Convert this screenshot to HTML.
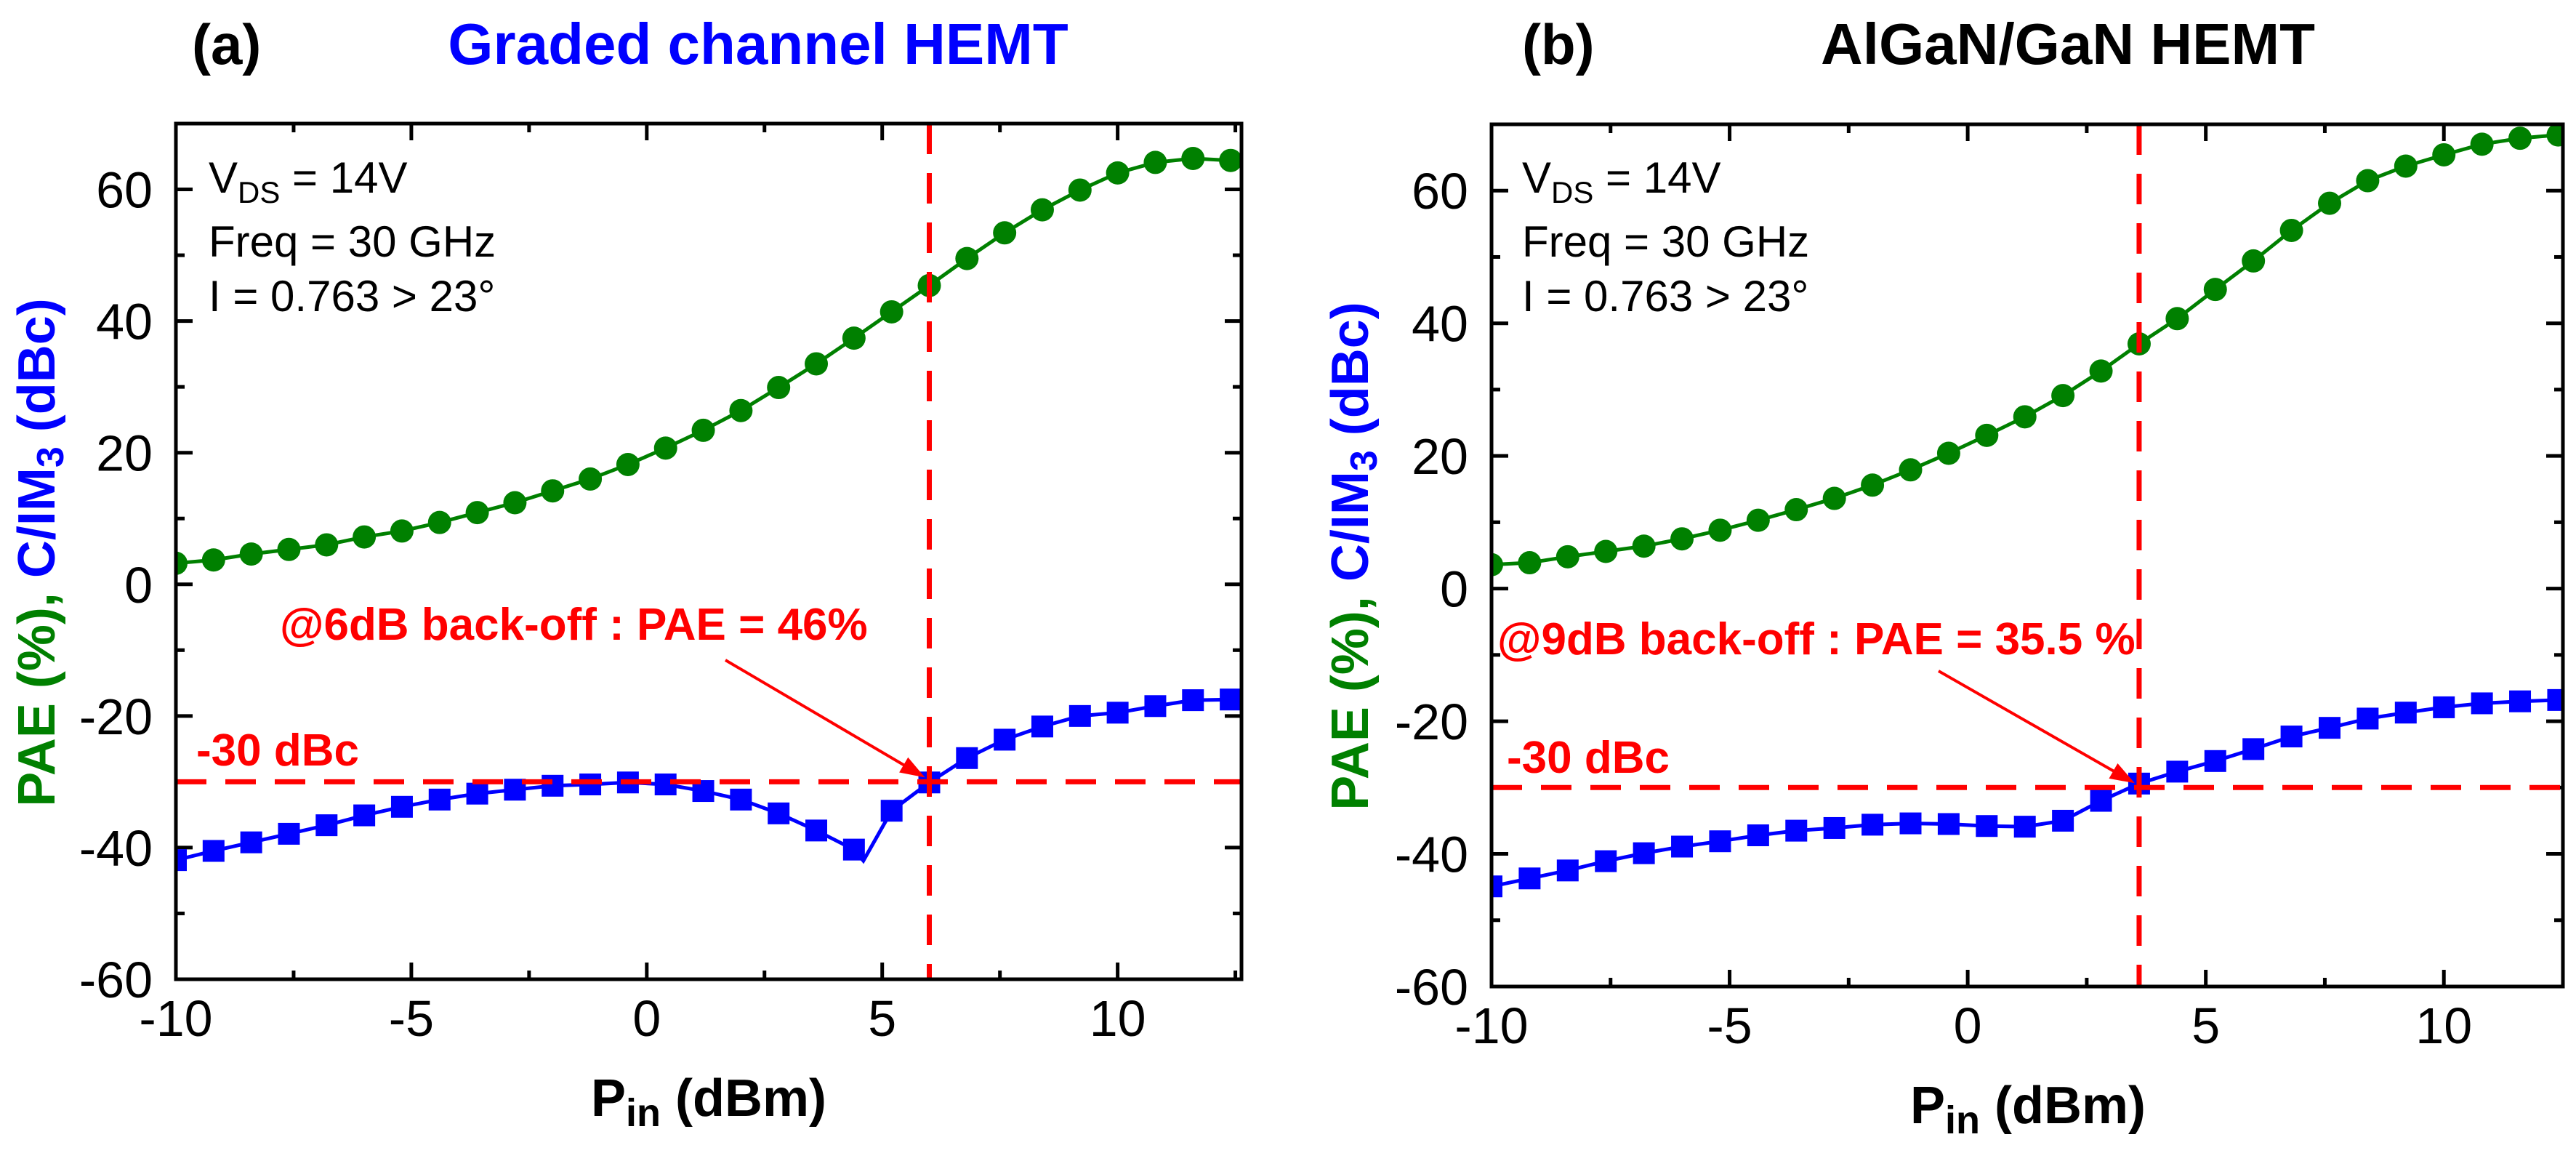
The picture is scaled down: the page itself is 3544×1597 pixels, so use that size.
<!DOCTYPE html>
<html><head><meta charset="utf-8"><style>
html,body{margin:0;padding:0;background:#fff;}
svg{display:block;font-family:"Liberation Sans",Arial,sans-serif;}
</style></head><body>
<svg id="fig" width="3544" height="1597" viewBox="0 0 3544 1597" xmlns="http://www.w3.org/2000/svg"></svg>
<script>
// ---- data ----
const pinA = [-10,-9.2,-8.4,-7.6,-6.8,-6,-5.2,-4.4,-3.6,-2.8,-2,-1.2,-0.4,0.4,1.2,2,2.8,3.6,4.4,5.2,6,6.8,7.6,8.4,9.2,10,10.8,11.6,12.4];
const paeA = [3.2,3.7,4.6,5.3,6.0,7.2,8.1,9.4,10.9,12.4,14.2,16.0,18.2,20.7,23.4,26.4,29.9,33.5,37.4,41.4,45.4,49.5,53.4,56.9,59.9,62.5,64.1,64.7,64.4];
const cimA = [-41.9,-40.5,-39.2,-37.9,-36.6,-35.1,-33.8,-32.7,-31.8,-31.2,-30.6,-30.4,-30.1,-30.4,-31.4,-32.7,-34.8,-37.4,-40.3,-34.4,-30.1,-26.4,-23.6,-21.6,-20.0,-19.5,-18.5,-17.6,-17.5];
const dipA = [4.6,-42.0];
const pinB = [-10,-9.2,-8.4,-7.6,-6.8,-6,-5.2,-4.4,-3.6,-2.8,-2,-1.2,-0.4,0.4,1.2,2,2.8,3.6,4.4,5.2,6,6.8,7.6,8.4,9.2,10,10.8,11.6,12.4];
const paeB = [3.6,3.9,4.8,5.6,6.4,7.5,8.8,10.3,11.9,13.6,15.6,17.9,20.4,23.1,25.9,29.1,32.8,36.9,40.7,45.1,49.4,54.0,58.1,61.5,63.7,65.4,67.0,67.9,68.4];
const cimB = [-44.9,-43.7,-42.5,-41.1,-39.9,-38.9,-38.1,-37.2,-36.5,-36.1,-35.6,-35.4,-35.5,-35.8,-35.9,-35.0,-32.0,-29.4,-27.6,-26.0,-24.2,-22.3,-21.0,-19.6,-18.7,-17.9,-17.3,-17.0,-16.8];
const xTicks = [-10,-5,0,5,10];
const yTicks = [-60,-40,-20,0,20,40,60];
const backoffA = 6, backoffB = 3.6, limitDbc = -30;

const NS="http://www.w3.org/2000/svg";
const svg=document.getElementById('fig');
function mk(tag,attrs,parent,text){const e=document.createElementNS(NS,tag);for(const k in attrs)e.setAttribute(k,attrs[k]);if(text!==undefined)e.textContent=text;(parent||svg).appendChild(e);return e;}

function panel(o){
  const g=mk('g',{});
  
  
  const X=v=>o.L+(v-o.x0)/(o.x1-o.x0)*(o.R-o.L);
  const Y=v=>o.B-(v-o.y0)/(o.y1-o.y0)*(o.B-o.T);
  const tk=mk('g',{stroke:'#000','stroke-width':5},g);
  
  
  for(let v=o.x0;v<=o.x1+1e-6;v+=2.5){const maj=Math.abs(v%5)<1e-6;const l=maj?23:12;const x=X(v);
    mk('line',{x1:x,x2:x,y1:o.B,y2:o.B-l},tk);mk('line',{x1:x,x2:x,y1:o.T,y2:o.T+l},tk);}
  for(let v=o.y0;v<=o.y1+1e-6;v+=10){const maj=Math.abs(v%20)<1e-6;const l=maj?23:12;const y=Y(v);
    mk('line',{x1:o.L,x2:o.L+l,y1:y,y2:y},tk);mk('line',{x1:o.R,x2:o.R-l,y1:y,y2:y},tk);}
  xTicks.forEach(v=>{const t=mk('text',{x:X(v),y:o.B+78,'font-size':70,'text-anchor':'middle'},g,String(v));
    
    });
  yTicks.forEach(v=>{const t=mk('text',{x:o.L-32,y:Y(v)+25,'font-size':70,'text-anchor':'end'},g,String(v));
    
    });
  const cp=mk('clipPath',{id:'clip'+o.id},g);mk('rect',{x:o.L,y:o.T,width:o.R-o.L,height:o.B-o.T},cp);
  const sg=mk('g',{'clip-path':'url(#clip'+o.id+')'},g);
  const gpts=o.px.map((x,i)=>X(x)+','+Y(o.pae[i])).join(' ');
  const gl=mk('polyline',{points:gpts,fill:'none',stroke:'#008000','stroke-width':5},sg);
  
  
  const bp=[];o.px.forEach((x,i)=>{if(o.dip&&x>o.dip[0]&&bp.length&&o.px[i-1]<o.dip[0])bp.push([o.dip[0],o.dip[1]]);bp.push([x,o.cim[i]]);});
  const bl=mk('polyline',{points:bp.map(p=>X(p[0])+','+Y(p[1])).join(' '),fill:'none',stroke:'#0000ff','stroke-width':5},sg);
  
  
  o.px.forEach((x,i)=>{const c=mk('circle',{cx:X(x),cy:Y(o.pae[i]),r:16,fill:'#008000'},sg);
    
    
    const s=mk('rect',{x:X(x)-15,y:Y(o.cim[i])-15,width:30,height:30,fill:'#0000ff'},sg);
    
    });
  const h=mk('line',{x1:o.L,x2:o.R,y1:Y(limitDbc),y2:Y(limitDbc),stroke:'#ff0000','stroke-width':7,'stroke-dasharray':'42 26'},g);
  
  
  const vv=mk('line',{x1:X(o.bo),x2:X(o.bo),y1:o.T,y2:o.B,stroke:'#ff0000','stroke-width':7,'stroke-dasharray':'42 26'},g);
  
  
  const fr=mk('rect',{x:o.L,y:o.T,width:o.R-o.L,height:o.B-o.T,fill:'none',stroke:'#000','stroke-width':5},g);
  
  
  const ax=X(o.bo)-6, ay=Y(limitDbc)-6;
  const ang=Math.atan2(ay-o.ay0,ax-o.ax0);
  const ar=mk('g',{},g);
  
  
  mk('line',{x1:o.ax0,y1:o.ay0,x2:ax-20*Math.cos(ang),y2:ay-20*Math.sin(ang),stroke:'#ff0000','stroke-width':4},ar);
  const hl=34,hw=12;
  const bx=ax-hl*Math.cos(ang),by=ay-hl*Math.sin(ang);
  mk('polygon',{points:`${ax},${ay} ${bx+hw*Math.sin(ang)},${by-hw*Math.cos(ang)} ${bx-hw*Math.sin(ang)},${by+hw*Math.cos(ang)}`,fill:'#ff0000'},ar);
  return g;
}
panel({id:'a',L:242,R:1708,T:170,B:1347,x0:-10,x1:12.63,y0:-60,y1:70,px:pinA,pae:paeA,cim:cimA,dip:dipA,bo:backoffA,ax0:998,ay0:908});
panel({id:'b',L:2052,R:3526,T:171,B:1357,x0:-10,x1:12.5,y0:-60,y1:70,px:pinB,pae:paeB,cim:cimB,dip:null,bo:backoffB,ax0:2667,ay0:923});
</script>
<svg style="position:absolute;left:0;top:0" width="3544" height="1597" xmlns="http://www.w3.org/2000/svg" font-family="Liberation Sans, Arial, sans-serif">
  <text x="264" y="88" font-size="78" font-weight="bold">(a)</text>
  <text x="1043" y="88" font-size="80" font-weight="bold" fill="#0000ff" text-anchor="middle">Graded channel HEMT</text>
  <text x="2094" y="88" font-size="78" font-weight="bold">(b)</text>
  <text x="2845" y="88" font-size="80" font-weight="bold" text-anchor="middle">AlGaN/GaN HEMT</text>

  <g font-size="60">
    <text x="287" y="265">V<tspan font-size="42" dy="14">DS</tspan><tspan dy="-14"> = 14V</tspan></text>
    <text x="287" y="353">Freq = 30 GHz</text>
    <text x="287" y="428">I = 0.763 &gt; 23°</text>
  </g>
  <g font-size="60">
    <text x="2094" y="265">V<tspan font-size="42" dy="14">DS</tspan><tspan dy="-14"> = 14V</tspan></text>
    <text x="2094" y="353">Freq = 30 GHz</text>
    <text x="2094" y="428">I = 0.763 &gt; 23°</text>
  </g>

  <text x="385" y="880" font-size="62" font-weight="bold" fill="#ff0000">@6dB back-off : PAE = 46%</text>
  <text x="270" y="1053" font-size="62" font-weight="bold" fill="#ff0000">-30 dBc</text>
  <text x="2060" y="900" font-size="62" font-weight="bold" fill="#ff0000">@9dB back-off : PAE = 35.5 %</text>
  <text x="2073" y="1063" font-size="62" font-weight="bold" fill="#ff0000">-30 dBc</text>

  <text transform="translate(75,760) rotate(-90)" font-size="72" font-weight="bold" text-anchor="middle"><tspan fill="#008000">PAE (%), </tspan><tspan fill="#0000ff">C/IM<tspan font-size="52" dy="12">3</tspan><tspan dy="-12"> (dBc)</tspan></tspan></text>
  <text transform="translate(1882,765) rotate(-90)" font-size="72" font-weight="bold" text-anchor="middle"><tspan fill="#008000">PAE (%), </tspan><tspan fill="#0000ff">C/IM<tspan font-size="52" dy="12">3</tspan><tspan dy="-12"> (dBc)</tspan></tspan></text>

  <text x="975" y="1535" font-size="72" font-weight="bold" text-anchor="middle">P<tspan font-size="54" dy="14">in</tspan><tspan dy="-14"> (dBm)</tspan></text>
  <text x="2790" y="1545" font-size="72" font-weight="bold" text-anchor="middle">P<tspan font-size="54" dy="14">in</tspan><tspan dy="-14"> (dBm)</tspan></text>
</svg>
</body></html>
